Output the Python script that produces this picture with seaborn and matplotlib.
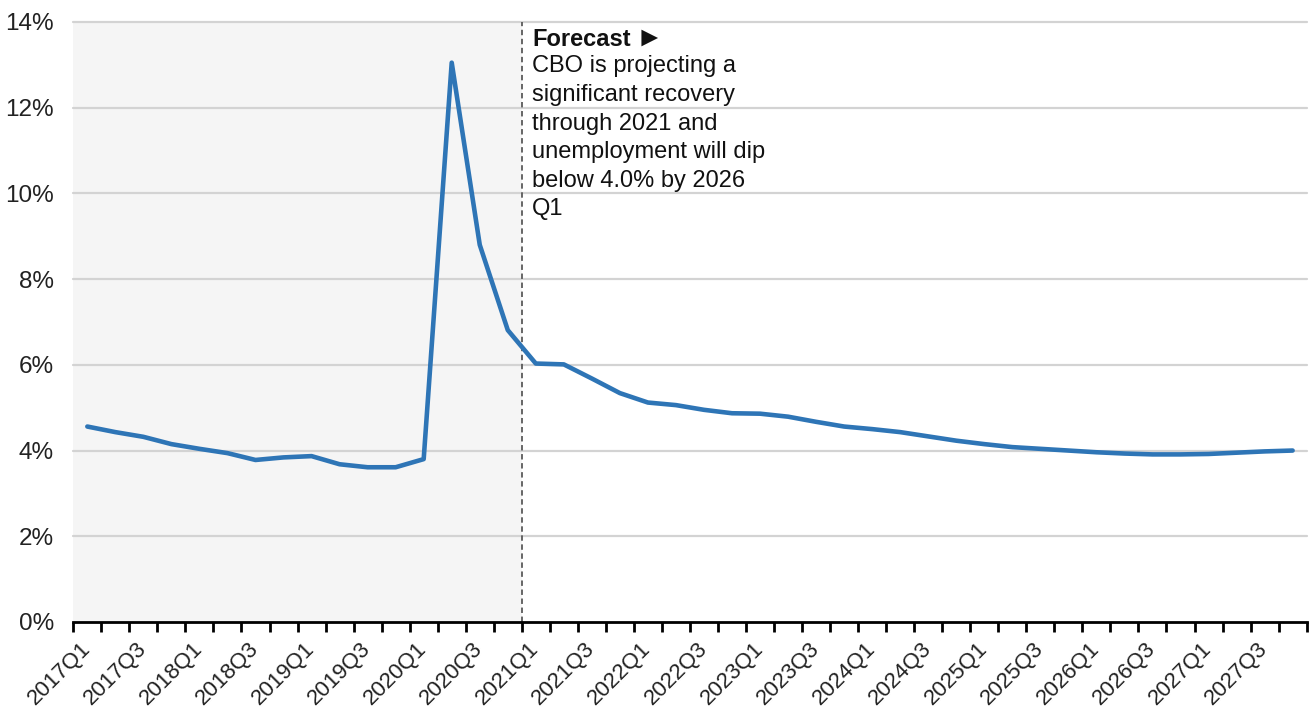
import numpy as np
import pandas as pd
import matplotlib
matplotlib.use("Agg")
import matplotlib.pyplot as plt
import seaborn as sns

# Quarterly unemployment rate (%), actuals through 2020Q4, CBO projection afterwards
quarters = [f"{year}Q{q}" for year in range(2017, 2028) for q in range(1, 5)]
unemployment = [
    4.56, 4.43, 4.32, 4.15, 4.04, 3.94, 3.78, 3.84, 3.87, 3.68, 3.61, 3.61,
    3.80, 13.05, 8.80, 6.81, 6.03, 6.01, 5.68, 5.34, 5.12, 5.06, 4.95, 4.87,
    4.86, 4.79, 4.67, 4.56, 4.50, 4.43, 4.33, 4.23, 4.15, 4.08, 4.04, 4.00,
    3.96, 3.93, 3.91, 3.91, 3.92, 3.95, 3.98, 4.00,
]
forecast_start = "2021Q1"
y_ticks = [0, 2, 4, 6, 8, 10, 12, 14]
note_title = "Forecast"
note_arrow = "\u25ba"
note_body = ("CBO is projecting a\nsignificant recovery\nthrough 2021 and\n"
             "unemployment will dip\nbelow 4.0% by 2026\nQ1")

sns.set_theme(style="white")
plt.rcParams["font.family"] = ["Liberation Sans", "DejaVu Sans"]

df = pd.DataFrame({"quarter": quarters,
                   "pos": np.arange(len(quarters)),
                   "rate": unemployment})

fig = plt.figure(figsize=(13.09, 7.15), dpi=100)
ax = fig.add_axes([0.056, 0.1301, 0.9422, 0.8392])

split = quarters.index(forecast_start) - 0.5

# historical period shading and horizontal grid
ax.axvspan(-0.5, split, color="#f5f5f5", zorder=0, lw=0)
for y in y_ticks[1:]:
    ax.axhline(y, color="#d3d3d3", lw=1.6, zorder=1, clip_on=False)

sns.lineplot(data=df, x="pos", y="rate", color="#2e75b6", lw=3.3,
             ax=ax, zorder=3)

ax.axvline(split, color="#5a5a5a", ls=(0, (3, 2)), lw=1.3, zorder=2)

# forecast note to the right of the divider
ax.annotate(note_title, xy=(split, y_ticks[-1]), xytext=(7.5, -17.3),
            textcoords="offset points", ha="left", va="baseline",
            fontsize=17, fontweight="bold", color="#111111")
ax.annotate(note_arrow, xy=(split, y_ticks[-1]), xytext=(82, -17.3),
            textcoords="offset points", ha="left", va="baseline",
            fontsize=20, fontweight="bold", color="#111111")
ax.annotate(note_body, xy=(split, y_ticks[-1]), xytext=(7.5, -24),
            textcoords="offset points", ha="left", va="top",
            fontsize=17, color="#111111", linespacing=1.39)

# axes limits and ticks
ax.set_xlim(-0.5, len(quarters) - 0.5)
ax.set_ylim(y_ticks[0], y_ticks[-1])
ax.set_yticks(y_ticks, [f"{v}%" for v in y_ticks])
ax.tick_params(axis="y", length=0, pad=14, labelsize=17.5, labelcolor="#222222")

ax.set_xticks(df["pos"][::2], df["quarter"][::2])
ax.set_xticks(np.arange(-0.5, len(quarters)), minor=True)
ax.tick_params(axis="x", which="major", length=0, pad=17, labelsize=16,
               labelcolor="#222222")
ax.tick_params(axis="x", which="minor", bottom=True, length=7, width=2,
               color="black", direction="out")
for lbl in ax.get_xticklabels():
    lbl.set_rotation(45)
    lbl.set_ha("right")
    lbl.set_va("center")
    lbl.set_rotation_mode("anchor")

ax.set_xlabel("")
ax.set_ylabel("")
for side in ("left", "right", "top"):
    ax.spines[side].set_visible(False)
ax.spines["bottom"].set_color("black")
ax.spines["bottom"].set_linewidth(2)
ax.spines["bottom"].set_zorder(4)

fig.savefig("out.png", dpi=100)
